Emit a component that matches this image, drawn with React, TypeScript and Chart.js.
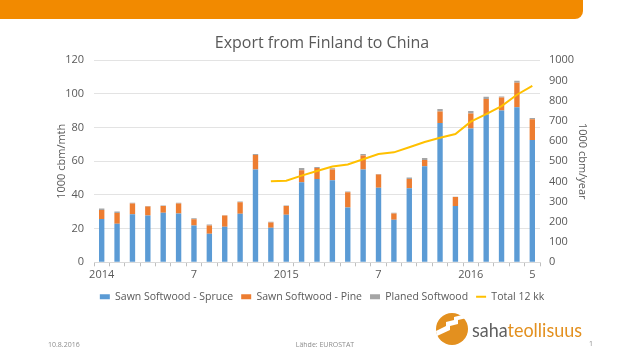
import React, { useEffect, useRef } from "react";
import { Chart, registerables } from "chart.js";

Chart.register(...registerables);

const months = [
  "2014-01","2014-02","2014-03","2014-04","2014-05","2014-06","2014-07","2014-08","2014-09","2014-10","2014-11","2014-12",
  "2015-01","2015-02","2015-03","2015-04","2015-05","2015-06","2015-07","2015-08","2015-09","2015-10","2015-11","2015-12",
  "2016-01","2016-02","2016-03","2016-04","2016-05",
];
const tickLabels = [
  "2014","","","","","","7","","","","","",
  "2015","","","","","","7","","","","","",
  "2016","","","","5",
];
const spruce = [25.7,22.9,28.6,27.8,29.4,29.0,21.9,17.0,21.1,28.8,55.1,20.5,28.2,47.6,49.5,48.7,32.6,55.1,44.2,25.3,44.0,57.0,82.7,33.4,79.5,87.8,90.2,92.0,72.6];
const pine = [5.3,6.3,6.3,5.4,4.0,5.9,3.6,4.9,6.7,6.9,8.6,3.2,5.2,7.1,6.5,6.4,9.0,8.3,7.9,3.7,5.5,3.8,6.9,5.3,8.9,9.1,7.7,14.6,12.3];
const planed = [1.0,1.0,0.4,0.2,0.3,0.4,0.6,0.6,0.2,0.4,0.6,0.4,0.3,1.3,0.6,0.8,0.4,0.9,0.4,0.4,0.8,1.2,1.4,0.2,1.4,1.4,0.6,1.2,0.8];
const total12 = [null,null,null,null,null,null,null,null,null,null,null,401,404,429,452,474,484,510,536,544,569,595,616,635,696,733,773,829,873];

const FONT = "'Open Sans', 'DejaVu Sans', sans-serif";
const TXT = "#595959";

export default function App() {
  const ref = useRef<HTMLCanvasElement | null>(null);
  useEffect(() => {
    if (!ref.current) return;
    const chart = new Chart(ref.current, {
      type: "bar",
      data: {
        labels: months,
        datasets: [
          { label: "Sawn Softwood - Spruce", data: spruce, backgroundColor: "#5B9BD5", stack: "s", order: 2 },
          { label: "Sawn Softwood - Pine", data: pine, backgroundColor: "#ED7D31", stack: "s", order: 2 },
          { label: "Planed Softwood", data: planed, backgroundColor: "#A5A5A5", stack: "s", order: 2 },
          {
            type: "line",
            label: "Total 12 kk",
            data: total12 as any,
            borderColor: "#FFC000",
            backgroundColor: "#FFC000",
            borderWidth: 2,
            pointRadius: 0,
            tension: 0,
            yAxisID: "y1",
            order: 1,
          } as any,
        ],
      },
      options: {
        responsive: false,
        animation: false,
        datasets: { bar: { barPercentage: 0.35, categoryPercentage: 1 } },
        layout: { padding: { left: 51, right: 47, top: 0, bottom: 8 } },
        plugins: {
          title: {
            display: true,
            text: "Export from Finland to China",
            color: TXT,
            font: { family: FONT, size: 16, weight: "normal" },
            padding: { top: 34, bottom: 7 },
          },
          legend: {
            position: "bottom",
            labels: {
              color: TXT,
              font: { family: FONT, size: 10.5 },
              usePointStyle: true,
              pointStyleWidth: 10,
              boxHeight: 5,
              padding: 8,
              generateLabels: (c: any) =>
                c.data.datasets.map((ds: any, i: number) => ({
                  text: ds.label,
                  fillStyle: ds.backgroundColor,
                  strokeStyle: ds.type === "line" ? ds.borderColor : ds.backgroundColor,
                  lineWidth: ds.type === "line" ? 2 : 0,
                  pointStyle: ds.type === "line" ? "line" : "rect",
                  fontColor: TXT,
                  hidden: false,
                  datasetIndex: i,
                })),
            },
          },
          tooltip: { enabled: false },
        },
        scales: {
          x: {
            stacked: true,
            offset: true,
            grid: { display: true, drawOnChartArea: false, drawTicks: true, tickLength: 4, color: "#BFBFBF", offset: true },
            border: { display: true, color: "#D9D9D9" },
            ticks: {
              autoSkip: false,
              maxRotation: 0,
              padding: 2,
              color: TXT,
              font: { family: FONT, size: 11 },
              callback: (_v: any, i: number) => tickLabels[i],
            },
          },
          y: {
            stacked: true,
            position: "left",
            min: 0,
            max: 120,
            ticks: { stepSize: 20, padding: 10, color: TXT, font: { family: FONT, size: 11 }, callback: (v: any) => String(v) },
            grid: { color: "#E3E3E3", drawTicks: false },
            border: { display: false },
            title: { display: true, text: "1000 cbm/mth", color: TXT, font: { family: FONT, size: 11 } },
            afterFit: (s: any) => { s.width = 43; },
          },
          y1: {
            position: "right",
            min: 0,
            max: 1000,
            ticks: { stepSize: 100, padding: 9, color: TXT, font: { family: FONT, size: 11 }, callback: (v: any) => String(v) },
            grid: { drawOnChartArea: false, drawTicks: false },
            border: { display: false },
            title: { display: true, text: "1000 cbm/year", color: TXT, font: { family: FONT, size: 11 } },
            afterFit: (s: any) => { s.width = 53; },
          },
        },
      } as any,
    });
    return () => chart.destroy();
  }, []);

  return (
    <div style={{ position: "fixed", left: 0, top: 0, width: 640, height: 360, background: "#fff", overflow: "hidden" }}>
      <div style={{ position: "absolute", left: 0, top: 0, width: 583, height: 19, background: "#F28A00", borderBottomRightRadius: 8 }} />
      <canvas ref={ref} width={640} height={320} style={{ position: "absolute", left: 0, top: 0, display: "block" }} />
      <svg width={640} height={360} style={{ position: "absolute", left: 0, top: 0, pointerEvents: "none" }}>
        <text x={48} y={347} fontSize={7} fill="#8C8C8C" fontFamily={FONT}>10.8.2016</text>
        <text x={325} y={347} fontSize={7} fill="#8C8C8C" fontFamily={FONT} textAnchor="middle">Lähde: EUROSTAT</text>
        <text x={589} y={346} fontSize={7} fill="#8C8C8C" fontFamily={FONT}>1</text>
        <circle cx={452} cy={329} r={16} fill="#E3901F" />
        <polygon points="436,331 446,326 446,322 454,320 454,317 466,314 467,318 458,320 458,324 450,326 450,330 437,336" fill="#fff" />
        <text x={472} y={337} fontSize={19} fontFamily="Lato, 'Open Sans', sans-serif" textLength={110} lengthAdjust="spacingAndGlyphs">
          <tspan fill="#606060">saha</tspan>
          <tspan fill="#E3901F">teollisuus</tspan>
        </text>
      </svg>
    </div>
  );
}
